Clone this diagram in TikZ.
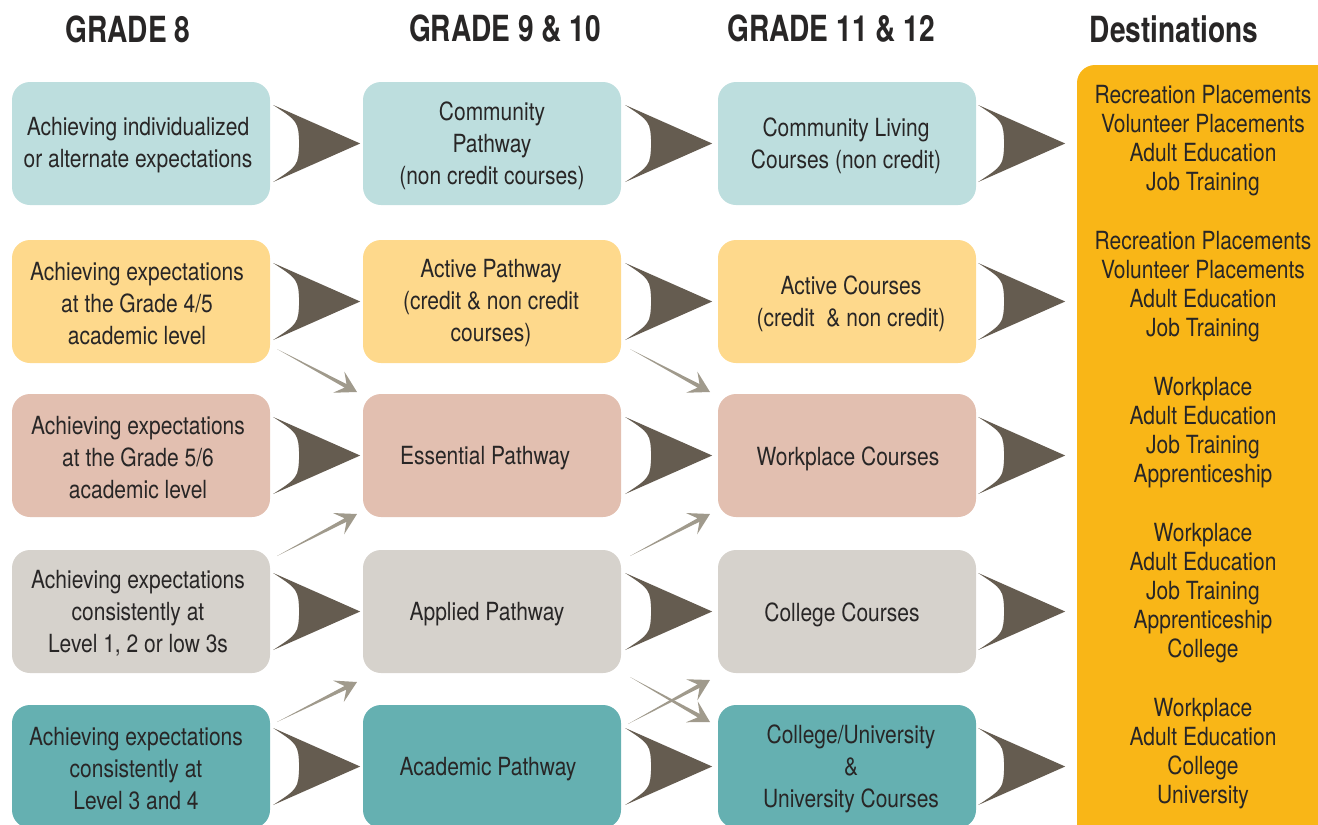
\documentclass[tikz,border=0pt]{standalone}
\usepackage{fontspec}
\setmainfont{TeX Gyre Heros}[FakeStretch=0.84]
\newfontfamily\headfont{TeX Gyre Heros}[FakeStretch=0.78]
\usetikzlibrary{calc}
\definecolor{cBlue}{RGB}{189,222,222}
\definecolor{cYellow}{RGB}{254,217,140}
\definecolor{cPink}{RGB}{226,191,176}
\definecolor{cGray}{RGB}{214,210,204}
\definecolor{cTeal}{RGB}{101,176,177}
\definecolor{cGold}{RGB}{249,182,23}
\definecolor{chevcol}{RGB}{101,92,80}
\definecolor{thincol}{RGB}{160,154,140}
\definecolor{txt}{RGB}{40,38,38}
\tikzset{
  box/.style={rounded corners=18pt, minimum width=258pt, minimum height=123pt, inner sep=0pt},
  bt/.style={align=center, text=txt, inner sep=0pt, font=\fontsize{25}{32}\selectfont},
  head/.style={text=txt, inner sep=0pt, font=\headfont\bfseries\fontsize{36}{40}\selectfont},
  desttext/.style={align=center, text=txt, inner sep=0pt, font=\fontsize{25}{29}\selectfont},
  chev/.pic={\fill[chevcol] (0,-38.5) -- (87,0) -- (0,38.5) .. controls (25,22) .. (26,0) .. controls (25,-22) .. cycle;}
}
\newcommand\tarrow[2]{%
  \coordinate (tmpN) at ($(#2)!13pt!(#1)$);
  \fill[thincol] (#1) -- ($(tmpN)!2pt!90:(#2)$) -- ($(#2)!24pt!-30:(#1)$) -- (#2)
    -- ($(#2)!24pt!30:(#1)$) -- ($(tmpN)!2pt!-90:(#2)$) -- cycle;}
\begin{document}
\begin{tikzpicture}[x=1pt,y=-1pt]
\useasboundingbox (0,0) rectangle (1318,825);
\clip (0,0) rectangle (1318,825);
% headings
\node[head] (h1) at (128,29) {GRADE 8};
\node[head] (h2) at (505,29) {GRADE 9 \& 10};
\node[head] (h3) at (831,29) {GRADE 11 \& 12};
\node[head] (h4) at (1174,29) {Destinations};
% destination box
\node[rounded corners=18pt, fill=cGold, minimum width=270pt, minimum height=790pt, inner sep=0pt] (dest) at (1212,460) {};
\node[desttext] (d1) at (1203,140.5) {Recreation Placements\\Volunteer Placements\\Adult Education\\Job Training};
\node[desttext] (d2) at (1203,286.5) {Recreation Placements\\Volunteer Placements\\Adult Education\\Job Training};
\node[desttext] (d3) at (1203,432.5) {Workplace\\Adult Education\\Job Training\\Apprenticeship};
\node[desttext] (d4) at (1203,593) {Workplace\\Adult Education\\Job Training\\Apprenticeship\\College};
\node[desttext] (d5) at (1203,753.5) {Workplace\\Adult Education\\College\\University};
% boxes
\node[box, fill=cBlue] (r1c1) at (141,143.5) {};
\node[box, fill=cBlue] (r1c2) at (492,143.5) {};
\node[box, fill=cBlue] (r1c3) at (847,143.5) {};
\node[box, fill=cYellow] (r2c1) at (141,301.5) {};
\node[box, fill=cYellow] (r2c2) at (492,301.5) {};
\node[box, fill=cYellow] (r2c3) at (847,301.5) {};
\node[box, fill=cPink] (r3c1) at (141,455.5) {};
\node[box, fill=cPink] (r3c2) at (492,455.5) {};
\node[box, fill=cPink] (r3c3) at (847,455.5) {};
\node[box, fill=cGray] (r4c1) at (141,611.5) {};
\node[box, fill=cGray] (r4c2) at (492,611.5) {};
\node[box, fill=cGray] (r4c3) at (847,611.5) {};
\node[box, fill=cTeal] (r5c1) at (141,766.5) {};
\node[box, fill=cTeal] (r5c2) at (492,766.5) {};
\node[box, fill=cTeal] (r5c3) at (847,766.5) {};
% box texts
\node[bt] (t11) at ($(r1c1)+(-3,2)$) {Achieving individualized\\or alternate expectations};
\node[bt] (t12) at ($(r1c2)+(0,2)$) {Community\\Pathway\\(non credit courses)};
\node[bt] (t13) at ($(r1c3)+(-1,2)$) {Community Living\\Courses (non credit)};
\node[bt] (t21) at ($(r2c1)+(-4,2)$) {Achieving expectations\\at the Grade 4/5\\academic level};
\node[bt] (t22) at ($(r2c2)+(-1,2)$) {Active Pathway\\(credit \& non credit\\courses)};
\node[bt] (t23) at ($(r2c3)+(4,2)$) {Active Courses\\(credit \ \& non credit)};
\node[bt] (t31) at ($(r3c1)+(-3,2)$) {Achieving expectations\\at the Grade 5/6\\academic level};
\node[bt] (t32) at ($(r3c2)+(-7,3)$) {Essential Pathway};
\node[bt] (t33) at ($(r3c3)+(1,3)$) {Workplace Courses};
\node[bt] (t41) at ($(r4c1)+(-3,2)$) {Achieving expectations\\consistently at\\Level 1, 2 or low 3s};
\node[bt] (t42) at ($(r4c2)+(-5,3)$) {Applied Pathway};
\node[bt] (t43) at ($(r4c3)+(-5,3)$) {College Courses};
\node[bt] (t51) at ($(r5c1)+(-5,2)$) {Achieving expectations\\consistently at\\Level 3 and 4};
\node[bt] (t52) at ($(r5c2)+(-4,3)$) {Academic Pathway};
\node[bt] (t53) at ($(r5c3)+(4,2)$) {College/University\\\&\\University Courses};
% chevrons
\foreach \r in {1,...,5}{
  \path ($(r\r c1.east)+(3,0)$) pic{chev};
  \path ($(r\r c2.east)+(4,0)$) pic{chev};
  \path ($(r\r c3.east)+(2,0)$) pic{chev};
}
% thin arrows
\coordinate (a1s) at (277,349); \coordinate (a1e) at (357,392);
\coordinate (a2s) at (277,556); \coordinate (a2e) at (357,514);
\coordinate (a3s) at (277,722); \coordinate (a3e) at (357,682);
\coordinate (a4s) at (630,349); \coordinate (a4e) at (710,392);
\coordinate (a5s) at (630,556); \coordinate (a5e) at (710,514);
\coordinate (a6s) at (630,677); \coordinate (a6e) at (710,722);
\coordinate (a7s) at (628,724); \coordinate (a7e) at (710,680);
\tarrow{a1s}{a1e}
\tarrow{a2s}{a2e}
\tarrow{a3s}{a3e}
\tarrow{a4s}{a4e}
\tarrow{a5s}{a5e}
\tarrow{a6s}{a6e}
\tarrow{a7s}{a7e}
\end{tikzpicture}
\end{document}
